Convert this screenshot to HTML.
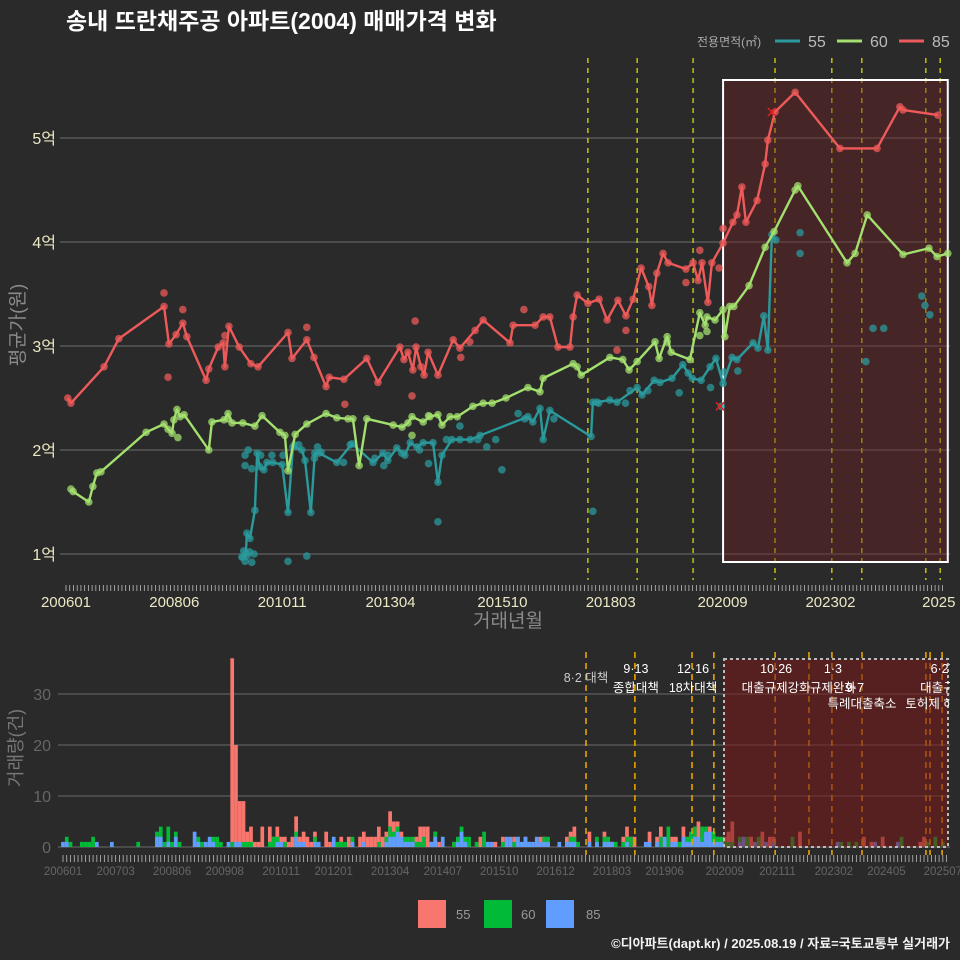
<!DOCTYPE html>
<html><head><meta charset="utf-8">
<style>
html,body{margin:0;padding:0;background:#2a2a2a;}
svg{display:block;font-family:"Liberation Sans","Noto Sans CJK KR",sans-serif;}
</style></head>
<body>
<svg id="chart" width="960" height="960" viewBox="0 0 960 960" xmlns="http://www.w3.org/2000/svg">
<rect x="0" y="0" width="960" height="960" fill="#2a2a2a"/>
<text x="66" y="29" fill="#ffffff" font-size="23" font-weight="bold">송내 뜨란채주공 아파트(2004) 매매가격 변화</text>
<g>
<text x="697" y="46" fill="#aaaaaa" font-size="12">전용면적(㎡)</text>
<line x1="775" y1="41" x2="800" y2="41" stroke="#2a9a9c" stroke-width="3"/>
<text x="808" y="47" fill="#bbbbbb" font-size="16">55</text>
<line x1="837" y1="41" x2="862" y2="41" stroke="#a3e06e" stroke-width="3"/>
<text x="870" y="47" fill="#bbbbbb" font-size="16">60</text>
<line x1="899" y1="41" x2="924" y2="41" stroke="#ee5a5a" stroke-width="3"/>
<text x="932" y="47" fill="#bbbbbb" font-size="16">85</text>
</g>
<g id="topPanel"></g>
<g id="botPanel"></g>
<text x="508" y="627" fill="#8a8a8a" font-size="19" text-anchor="middle">거래년월</text>
<text transform="translate(24,325) rotate(-90)" fill="#8a8a8a" font-size="19" text-anchor="middle">평균가(원)</text>
<text transform="translate(22,748) rotate(-90)" fill="#777777" font-size="18" text-anchor="middle">거래량(건)</text>
<g>
<rect x="418" y="900" width="28" height="28" fill="#f8766d"/>
<text x="456" y="919" fill="#999" font-size="13">55</text>
<rect x="484" y="900" width="28" height="28" fill="#00ba38"/>
<text x="521" y="919" fill="#999" font-size="13">60</text>
<rect x="546" y="900" width="28" height="28" fill="#619cff"/>
<text x="586" y="919" fill="#999" font-size="13">85</text>
</g>
<text x="950" y="948" fill="#f2f2f2" font-size="13" font-weight="bold" text-anchor="end">©디아파트(dapt.kr) / 2025.08.19 / 자료=국토교통부 실거래가</text>
</svg>
<script>
// ---- price data: [decimal year, price in 억] ----
const line85 = [[2006.04,2.50],[2006.11,2.45],[2006.85,2.80],[2007.18,3.07],[2008.19,3.38],[2008.30,3.02],[2008.46,3.11],[2008.61,3.22],[2008.70,3.09],[2009.13,2.67],[2009.19,2.78],[2009.40,2.99],[2009.51,3.03],[2009.55,2.80],[2009.64,3.19],[2009.87,2.99],[2010.13,2.83],[2010.29,2.80],[2010.96,3.13],[2011.05,2.88],[2011.38,3.06],[2011.54,2.89],[2011.81,2.61],[2011.88,2.70],[2012.21,2.68],[2012.72,2.88],[2012.97,2.65],[2013.46,2.99],[2013.55,2.87],[2013.64,2.94],[2013.75,2.77],[2013.82,2.99],[2013.93,2.80],[2014.00,2.72],[2014.09,2.94],[2014.31,2.72],[2014.65,3.06],[2014.80,2.98],[2015.14,3.15],[2015.32,3.25],[2015.92,3.03],[2015.99,3.20],[2016.48,3.20],[2016.66,3.28],[2016.81,3.28],[2016.99,2.99],[2017.26,2.99],[2017.33,3.28],[2017.42,3.49],[2017.66,3.41],[2017.91,3.45],[2018.09,3.25],[2018.33,3.44],[2018.51,3.29],[2018.67,3.45],[2018.85,3.75],[2019.02,3.57],[2019.09,3.39],[2019.20,3.70],[2019.34,3.89],[2019.45,3.80],[2019.85,3.74],[2020.01,3.80],[2020.12,3.63],[2020.21,3.80],[2020.34,3.42],[2020.43,3.80],[2020.68,3.99],[2020.90,4.19],[2020.99,4.26],[2021.10,4.53],[2021.19,4.19],[2021.44,4.40],[2021.62,4.75],[2021.68,4.98],[2021.84,5.25],[2022.29,5.44],[2023.29,4.90],[2024.12,4.90],[2024.63,5.30],[2024.70,5.27],[2025.48,5.22]];
const line60 = [[2006.11,1.625],[2006.16,1.60],[2006.51,1.50],[2006.60,1.65],[2006.69,1.78],[2006.78,1.79],[2007.79,2.17],[2008.19,2.25],[2008.28,2.20],[2008.37,2.16],[2008.41,2.29],[2008.48,2.39],[2008.55,2.32],[2008.64,2.34],[2009.19,2.00],[2009.26,2.27],[2009.53,2.29],[2009.62,2.35],[2009.71,2.26],[2009.95,2.26],[2010.22,2.23],[2010.38,2.33],[2010.78,2.17],[2010.89,2.14],[2010.96,1.80],[2011.12,2.15],[2011.38,2.25],[2011.81,2.35],[2012.05,2.31],[2012.30,2.30],[2012.41,2.30],[2012.55,1.85],[2012.72,2.30],[2013.31,2.24],[2013.51,2.22],[2013.64,2.26],[2013.73,2.32],[2013.98,2.27],[2014.13,2.32],[2014.31,2.34],[2014.40,2.24],[2014.58,2.32],[2014.74,2.32],[2015.09,2.42],[2015.32,2.45],[2015.52,2.45],[2015.83,2.50],[2016.32,2.60],[2016.59,2.56],[2016.66,2.69],[2017.33,2.83],[2017.42,2.80],[2017.51,2.72],[2018.15,2.89],[2018.44,2.87],[2018.58,2.77],[2018.76,2.85],[2019.16,3.04],[2019.25,2.88],[2019.43,3.09],[2019.52,2.94],[2019.94,2.87],[2020.16,3.32],[2020.28,3.20],[2020.32,3.28],[2020.50,3.25],[2020.68,3.35],[2020.72,3.09],[2020.83,3.38],[2020.92,3.38],[2021.26,3.58],[2021.62,3.95],[2021.82,4.10],[2022.29,4.50],[2022.35,4.54],[2023.45,3.80],[2023.63,3.89],[2023.90,4.26],[2024.70,3.88],[2025.28,3.94],[2025.46,3.86],[2025.70,3.89]];
const line55 = [[2009.95,0.97],[2010.02,1.01],[2010.04,1.20],[2010.11,1.15],[2010.22,1.42],[2010.27,1.97],[2010.33,1.84],[2010.42,1.81],[2010.49,1.88],[2010.62,1.88],[2010.83,1.86],[2010.96,1.40],[2011.07,2.03],[2011.27,2.00],[2011.34,1.90],[2011.47,1.40],[2011.56,1.97],[2011.65,1.97],[2012.05,1.88],[2012.39,2.06],[2012.86,1.88],[2013.08,1.97],[2013.19,1.90],[2013.39,2.02],[2013.57,1.95],[2013.69,2.07],[2013.84,2.03],[2013.98,2.07],[2014.20,2.07],[2014.31,1.69],[2014.40,1.95],[2014.62,2.10],[2014.80,2.10],[2015.03,2.10],[2015.25,2.14],[2016.32,2.32],[2016.43,2.27],[2016.59,2.40],[2016.66,2.10],[2016.81,2.38],[2017.73,2.13],[2017.77,2.46],[2017.86,2.46],[2018.15,2.48],[2018.31,2.46],[2018.76,2.60],[2018.87,2.53],[2019.14,2.67],[2019.27,2.65],[2019.54,2.69],[2019.78,2.82],[2019.90,2.74],[2019.99,2.69],[2020.19,2.67],[2020.39,2.80],[2020.52,2.88],[2020.68,2.64],[2020.88,2.89],[2020.99,2.87],[2021.35,3.03],[2021.46,2.98],[2021.59,3.29],[2021.68,2.96],[2021.77,4.07],[2021.86,4.02]];
const extra85 = [[2008.19,3.51],[2008.28,2.70],[2008.61,3.35],[2009.55,3.10],[2011.38,3.18],[2012.23,2.44],[2013.73,2.52],[2013.80,3.24],[2014.82,2.89],[2015.02,3.04],[2016.23,3.35],[2018.31,2.96],[2018.51,3.15],[2019.85,3.61],[2020.16,3.92],[2020.59,3.75],[2020.68,4.13]];
const extra60 = [[2008.50,2.12],[2009.62,2.30],[2013.73,2.14],[2014.10,2.33],[2019.43,3.04],[2020.16,3.10],[2020.32,3.14]];
const extra55 = [[2009.93,0.97],[2009.97,1.03],[2010.00,0.93],[2010.04,0.98],[2010.10,1.02],[2010.15,0.92],[2010.20,1.00],[2010.00,1.85],[2010.00,1.95],[2010.07,2.00],[2010.15,1.82],[2010.35,1.95],[2010.60,1.95],[2010.85,1.95],[2010.96,0.93],[2011.10,2.05],[2011.20,2.05],[2011.38,0.98],[2011.55,1.92],[2011.62,2.03],[2011.70,1.98],[2012.20,1.88],[2012.35,2.05],[2012.90,1.92],[2013.10,1.85],[2013.20,1.95],[2013.50,1.97],[2013.90,2.00],[2014.10,1.87],[2014.31,1.31],[2014.50,2.10],[2014.80,2.23],[2015.20,2.10],[2015.40,2.03],[2015.60,2.10],[2015.74,1.81],[2016.10,2.35],[2016.25,2.30],[2016.90,2.30],[2017.77,1.41],[2017.90,2.45],[2018.50,2.45],[2018.60,2.57],[2019.00,2.57],[2019.70,2.55],[2020.40,2.60],[2020.70,2.75],[2020.64,2.42],[2021.01,2.76],[2022.40,4.09],[2022.40,3.89],[2023.87,2.85],[2024.03,3.17],[2024.27,3.17],[2025.12,3.48],[2025.19,3.39],[2025.30,3.30]];
const crossMarks = [[2020.61,2.42],[2021.77,5.25]];
const yTickVals = [1,2,3,4,5];
const yTickLabels = ["1억","2억","3억","4억","5억"];
const xTickLabelsTop = ["200601","200806","201011","201304","201510","201803","202009","202302","2025"];
const xTickYearsTop = [2006.0,2008.42,2010.83,2013.25,2015.75,2018.17,2020.67,2023.08,2025.5];
const topPolicyYears = [2017.66,2018.76,2020.01,2021.84,2023.11,2023.78,2025.21,2025.53];

// ---- volume data: [months since 2006-01, count] ----
const vol55 = [[45,37],[46,20],[47,9],[48,9],[49,3],[50,4],[51,1],[52,1],[53,4],[55,4],[56,2],[57,4],[58,2],[59,2],[60,1],[61,2],[62,6],[63,2],[64,3],[65,2],[66,1],[67,3],[70,3],[71,1],[74,2],[76,2],[79,2],[80,3],[81,2],[82,2],[83,2],[84,4],[85,2],[86,3],[87,7],[88,5],[89,5],[90,3],[91,1],[94,2],[95,4],[96,4],[97,4],[98,1],[99,3],[100,1],[104,1],[106,2],[108,1],[111,2],[115,1],[117,2],[118,1],[120,2],[121,1],[123,2],[124,1],[126,1],[127,2],[128,2],[134,2],[135,3],[136,4],[140,3],[142,1],[144,3],[146,1],[149,2],[150,4],[151,2],[152,2],[156,3],[158,2],[159,4],[160,1],[162,2],[163,2],[164,1],[165,4],[166,2],[167,2],[169,5],[171,2],[172,4],[173,3],[174,2],[176,2],[177,3],[178,5],[183,2],[184,1],[186,3],[188,2],[189,2],[196,3],[213,2],[215,1],[218,2],[228,1],[229,2],[230,1]];
const vol60 = [[1,2],[2,1],[5,1],[6,1],[7,1],[8,2],[20,1],[25,3],[26,4],[27,1],[28,4],[29,1],[30,3],[31,1],[36,2],[37,1],[40,2],[41,2],[42,1],[45,1],[48,1],[49,1],[50,1],[55,1],[56,2],[57,2],[59,1],[62,3],[67,2],[73,1],[74,1],[75,1],[77,2],[84,1],[86,2],[87,4],[88,3],[89,4],[91,2],[92,2],[93,2],[94,1],[95,1],[96,2],[99,3],[104,1],[105,2],[106,4],[107,2],[108,2],[110,1],[112,3],[117,1],[120,1],[121,2],[128,2],[129,2],[135,2],[136,2],[137,1],[142,2],[144,2],[145,2],[147,1],[149,1],[150,2],[151,2],[159,2],[161,4],[164,1],[166,2],[167,3],[168,4],[170,4],[171,4],[173,3],[174,2],[175,2],[176,1],[177,1],[178,1],[180,2],[182,2],[185,2],[194,2],[207,1],[209,1],[211,1],[223,2],[230,1],[232,2],[234,1]];
const vol85 = [[0,1],[1,1],[9,1],[13,1],[25,2],[26,2],[28,1],[30,2],[35,3],[36,1],[38,1],[39,2],[40,1],[44,1],[46,1],[47,1],[57,1],[58,1],[62,2],[63,1],[64,1],[67,1],[68,1],[72,2],[77,1],[80,1],[86,1],[87,2],[88,2],[89,3],[90,2],[91,1],[92,1],[93,1],[98,1],[99,2],[101,2],[105,1],[106,3],[107,1],[113,1],[114,1],[118,2],[119,2],[121,2],[122,1],[123,2],[124,1],[125,1],[126,2],[127,1],[128,1],[129,1],[132,1],[134,1],[135,1],[136,1],[140,1],[142,1],[144,1],[145,1],[146,1],[150,1],[155,1],[156,1],[158,1],[160,2],[162,1],[163,1],[165,2],[166,1],[167,1],[168,2],[169,2],[170,1],[171,3],[172,3],[173,1],[174,1],[175,1],[180,1],[181,2],[184,1],[187,1],[189,1],[206,1],[216,1],[222,1]];
const volTickVals = [0,10,20,30];
const volXLabels = ["200601","200703","200806","200908","201011","201201","201304","201407","201510","201612","201803","201906","202009","202111","202302","202405","202507"];
const volXLabelMonths = [0,14,29,43,58,72,87,101,116,131,146,160,176,190,205,219,234];
const policyMonths = [139.1,152.1,167.3,173.1,189.4,198.4,204.5,212.5,229.5,230.6,233.8];
const policyDates = ["8·2 대책","9·13","12·16","","10·26","","1·3","","","","6·27"];
const policyNotes = ["","종합대책","18차대책","","대출규제강화","","규제완화","9·7","","","대출규제"];
const policyNotes2 = ["","","","","","","","특례대출축소","토허제 해지","",""];

const NS = "http://www.w3.org/2000/svg";
function mk(parent, tag, attrs){const e=document.createElementNS(NS,tag);for(const k in attrs)e.setAttribute(k,attrs[k]);parent.appendChild(e);return e;}
const xT = t => 66 + (t-2006)*44.76;
const yT = v => 554 - (v-1)*104;
const xB = m => 63 + m*3.76;
const yB = n => 847 - n*5.1;

const topG = document.getElementById('topPanel');
const defs = mk(topG,'defs',{});
const cp = mk(defs,'clipPath',{id:'clipTop'}); mk(cp,'rect',{x:58,y:55,width:894,height:525});
const cp2 = mk(defs,'clipPath',{id:'clipBot'}); mk(cp2,'rect',{x:58,y:640,width:892,height:215});

yTickVals.forEach((v,i)=>{
  const g = mk(topG,'line',{x1:60,x2:950,y1:yT(v),y2:yT(v),stroke:'#6e6e6e','stroke-width':1});
  
  
  const t = mk(topG,'text',{x:56,y:yT(v)+6,fill:'#ece8c4','font-size':16,'text-anchor':'end'});
  t.textContent = yTickLabels[i];
  
  
});
for(let m=0;m<=235;m++){
  const tk = mk(topG,'line',{x1:xT(2006+m/12),x2:xT(2006+m/12),y1:585,y2:591,stroke:'#bdbdbd','stroke-width':0.8});
  
  
}
xTickLabelsTop.forEach((s,i)=>{
  const t = mk(topG,'text',{x:xT(xTickYearsTop[i]),y:607,fill:'#ece8c4','font-size':15,'text-anchor':'middle'});
  t.textContent = s;
  
  
});
const topPlot = mk(topG,'g',{'clip-path':'url(#clipTop)'});
topPolicyYears.forEach(y=>{
  const l = mk(topPlot,'line',{x1:xT(y),x2:xT(y),y1:58,y2:580,stroke:'#e8e800','stroke-width':1.2,'stroke-dasharray':'5,5'});
  
  
});
const shade = mk(topPlot,'rect',{x:xT(2020.68),y:80,width:xT(2025.7)-xT(2020.68),height:482,fill:'rgb(110,30,35)','fill-opacity':0.42,stroke:'#ffffff','stroke-width':2});



function drawSeries(pts, extra, color, name){
  const g = mk(topPlot,'g',{});
  
  
  pts.concat(extra).forEach(p=>{
    const c = mk(g,'circle',{cx:xT(p[0]),cy:yT(p[1]),r:3.8,fill:color,'fill-opacity':0.75});
    
    
  });
  const path = mk(g,'polyline',{points:pts.map(p=>xT(p[0])+','+yT(p[1])).join(' '),fill:'none',stroke:color,'stroke-width':2.4,'stroke-linejoin':'round'});
  
  
}
drawSeries(line55, extra55, '#2a9a9c', '55');
drawSeries(line60, extra60, '#a3e06e', '60');
drawSeries(line85, extra85, '#ee5a5a', '85');
crossMarks.forEach(p=>{
  const x=xT(p[0]), y=yT(p[1]);
  const c = mk(topPlot,'path',{d:`M${x-4},${y-4}L${x+4},${y+4}M${x-4},${y+4}L${x+4},${y-4}`,stroke:'#e02020','stroke-width':1.5});
  
  
});

const botG = document.getElementById('botPanel');
volTickVals.forEach(v=>{
  if(v>0){
    const g = mk(botG,'line',{x1:58,x2:950,y1:yB(v),y2:yB(v),stroke:'#6a6a6a','stroke-width':1});
    
    
  }
  const t = mk(botG,'text',{x:51,y:yB(v)+6,fill:'#666','font-size':16,'text-anchor':'end'});
  t.textContent = String(v);
  
  
});
const baseLine = mk(botG,'line',{x1:58,x2:950,y1:847,y2:847,stroke:'#6a6a6a','stroke-width':1});


for(let m=0;m<=235;m++){
  const tk = mk(botG,'line',{x1:xB(m),x2:xB(m),y1:855,y2:862,stroke:'#bdbdbd','stroke-width':0.8});
  
  
}
volXLabels.forEach((s,i)=>{
  const t = mk(botG,'text',{x:xB(volXLabelMonths[i]),y:875,fill:'#666','font-size':11.5,'text-anchor':'middle'});
  t.textContent = s;
  
  
});
const botPlot = mk(botG,'g',{'clip-path':'url(#clipBot)'});
// bars overlap (identity position): drawn 55, then 60, then 85 on top
function drawBars(arr,color,name){
  arr.forEach(d=>{
    const m=d[0], n=d[1];
    const r = mk(botPlot,'rect',{x:xB(m)-1.85,y:yB(n),width:3.7,height:yB(0)-yB(n),fill:color});
    
    
  });
}
drawBars(vol55,'#f8766d','55');
drawBars(vol60,'#00ba38','60');
drawBars(vol85,'#619cff','85');
policyMonths.forEach((m,i)=>{
  const l = mk(botPlot,'line',{x1:xB(m),x2:xB(m),y1:652,y2:857,stroke:'#e6a400','stroke-width':1.6,'stroke-dasharray':'6,5'});
  
  
});
const bshade = mk(botPlot,'rect',{x:xB(175.8),y:659,width:948-xB(175.8),height:188,fill:'rgb(120,25,25)','fill-opacity':0.58,stroke:'#bbbbbb','stroke-width':2,'stroke-dasharray':'3,3'});


policyMonths.forEach((m,i)=>{
  const x = xB(m);
  if(policyDates[i]){
    const first = i===0;
    const t = mk(botPlot,'text',{x:first?x:x+1,y:first?682:673,fill:first?'#cccccc':'#ffffff','font-size':12.5,'text-anchor':'middle'});
    t.textContent = policyDates[i];
    
    
  }
  if(policyNotes[i]){
    const t = mk(botPlot,'text',{x:i===7?x-7:x+1,y:692,fill:'#ffffff','font-size':12.5,'text-anchor':'middle'});
    t.textContent = policyNotes[i];
    
    
  }
  if(policyNotes2[i]){
    const t = mk(botPlot,'text',{x:x+(i===8?10:0),y:708,fill:'#ffffff','font-size':12.5,'text-anchor':'middle'});
    t.textContent = policyNotes2[i];
    
    
  }
});
</script>
</body></html>
